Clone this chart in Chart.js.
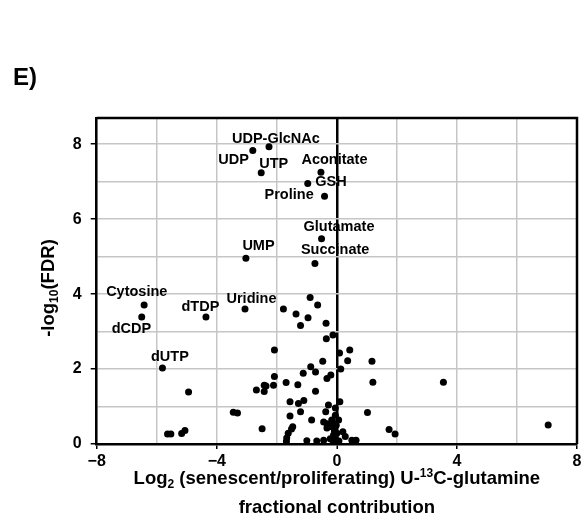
<!DOCTYPE html>
<html>
<head>
<meta charset="utf-8">
<title>Volcano plot E</title>
<script src="https://cdn.jsdelivr.net/npm/chart.js@4.4.1/dist/chart.umd.min.js"></script>
<style>
  html, body { margin: 0; padding: 0; background: #fff; }
  #chart { display: block; }
</style>
</head>
<body>
<canvas id="chart" width="581" height="520"></canvas>
<script>
// named metabolites
const labeledNames = ["UDP-GlcNAc", "UDP", "UTP", "Aconitate", "GSH", "Proline", "Glutamate",
  "Succinate", "UMP", "Cytosine", "dCDP", "dTDP", "Uridine", "dUTP"];
const labeledX = [-2.26, -2.8, -2.52, -0.53, -0.97, -0.41, -0.51, -0.73, -3.03, -6.42, -6.5, -4.36, -3.06, -5.81];
const labeledY = [7.93, 7.83, 7.24, 7.25, 6.95, 6.61, 5.48, 4.82, 4.96, 3.71, 3.39, 3.39, 3.6, 2.03];

// everything else
const otherX = [-4.94, -5.64, -5.53, -5.17, -5.06, -3.45, -3.31, -2.49, -2.68, -2.42, -2.36, -2.42,
  -2.08, -2.08, -2.11, -1.78, -1.69, -1.56, -1.56, -1.51, -1.47, -1.62, -1.67, -1.68,
  -1.36, -1.21, -0.96, -0.89, -0.64, -0.36, -0.35, -0.13, 0.09, 0.43, 0.36, 0.13,
  -0.47, -0.87, -0.71, -1.12, -1.3, -0.33, -0.2, -0.71, -1.1, -1.28, -1.21, -0.84,
  -0.28, 0.1, -0.05, -0.05, -0.37, -0.44, -0.33, -0.17, -0.11, -0.17, -0.33, 0.06,
  -0.02, -0.08, -0.11, 0.0, -0.05, -1.0, -0.67, -0.44, -0.22, -0.12, 0.02, 0.07,
  0.2, 0.28, 0.5, 0.64, 1.17, 1.2, 1.02, 1.74, 1.94, 3.55, 7.04];
const otherY = [1.39, 0.27, 0.27, 0.28, 0.36, 0.85, 0.83, 0.41, 1.44, 1.57, 1.55, 1.4,
  2.51, 1.8, 1.57, 3.6, 1.64, 1.13, 0.75, 0.4, 0.46, 0.29, 0.16, 0.07,
  3.47, 3.16, 3.37, 3.91, 3.71, 3.22, 2.81, 2.91, 2.43, 2.51, 2.22, 2.0,
  2.21, 2.06, 1.92, 1.89, 1.58, 1.75, 1.84, 1.41, 1.16, 1.08, 0.86, 0.64,
  1.04, 1.13, 0.96, 0.77, 0.86, 0.59, 0.54, 0.64, 0.55, 0.46, 0.43, 0.64,
  0.5, 0.35, 0.24, 0.29, 0.15, 0.09, 0.08, 0.1, 0.14, 0.06, 0.05, 0.08,
  0.33, 0.2, 0.1, 0.1, 2.21, 1.65, 0.84, 0.39, 0.27, 1.65, 0.51];

const xTickValues = [-8, -4, 0, 4, 8];
const yTickValues = [0, 2, 4, 6, 8];

// where each name sits next to its dot, px: [to text left edge, to baseline]
const labelOffsets = {
  "UDP-GlcNAc": [-37, -3.5], "UDP": [-34.5, 13], "UTP": [-2, -5], "Aconitate": [-19.5, -8.2],
  "GSH": [7.5, 2.2], "Proline": [-60, 2.3], "Glutamate": [-18, -8], "Succinate": [-14, -9.2],
  "UMP": [-3.5, -8], "Cytosine": [-38, -8.7], "dCDP": [-30, 15.7], "dTDP": [-24.5, -6.3],
  "Uridine": [-18.5, -5.7], "dUTP": [-11.5, -7],
};

const FONT = "'Liberation Sans', Arial, sans-serif";
const GRID = "#c6c6c6";

function points(xs, ys) {
  return xs.map((x, i) => ({ x, y: ys[i] }));
}

function minusLabel(v) {
  return v < 0 ? "\u2212" + Math.abs(v) : String(v);
}

// text with sub/superscript pieces, centred on x
function drawRich(ctx, parts, x, y, size) {
  const fontFor = (kind) => `bold ${kind ? size * 0.65 : size}px ${FONT}`;
  let total = 0;
  parts.forEach(([t, k]) => {
    ctx.font = fontFor(k);
    total += ctx.measureText(t).width;
  });
  let cx = x - total / 2;
  parts.forEach(([t, k]) => {
    ctx.font = fontFor(k);
    const dy = k === "sub" ? size * 0.22 : k === "sup" ? -size * 0.38 : 0;
    ctx.fillText(t, cx, y + dy);
    cx += ctx.measureText(t).width;
  });
}

const decor = {
  id: "decor",
  afterDatasetsDraw(chart) {
    const { ctx, chartArea: a, scales } = chart;
    ctx.save();
    // top and right edges of the box
    ctx.strokeStyle = "#000";
    ctx.lineWidth = 2.5;
    ctx.beginPath();
    ctx.moveTo(a.left, a.top);
    ctx.lineTo(a.right, a.top);
    ctx.lineTo(a.right, a.bottom);
    ctx.stroke();

    ctx.fillStyle = "#000";
    ctx.font = `bold 14.5px ${FONT}`;
    ctx.textAlign = "left";
    ctx.textBaseline = "alphabetic";
    labeledNames.forEach((name, i) => {
      const off = labelOffsets[name];
      const px = scales.x.getPixelForValue(labeledX[i]);
      const py = scales.y.getPixelForValue(labeledY[i]);
      ctx.fillText(name, px + off[0], py + off[1]);
    });
    ctx.restore();
  },
  afterDraw(chart) {
    const { ctx, chartArea: a } = chart;
    const midX = (a.left + a.right) / 2;
    ctx.save();
    ctx.fillStyle = "#000";
    ctx.textAlign = "left";
    ctx.textBaseline = "alphabetic";

    ctx.font = `bold 24px ${FONT}`;
    ctx.fillText("E)", 13, 85);

    drawRich(ctx, [["Log", ""], ["2", "sub"], [" (senescent/proliferating) U-", ""], ["13", "sup"], ["C-glutamine", ""]],
      midX, 484, 18.5);
    drawRich(ctx, [["fractional contribution", ""]], midX, 513, 18.5);

    ctx.translate(54, 288);
    ctx.rotate(-Math.PI / 2);
    drawRich(ctx, [["-log", ""], ["10", "sub"], ["(FDR)", ""]], 0, 0, 18.5);
    ctx.restore();
  },
};

new Chart(document.getElementById("chart"), {
  type: "scatter",
  data: {
    datasets: [
      {
        data: points(otherX, otherY).concat(points(labeledX, labeledY)),
        backgroundColor: "#000",
        borderWidth: 0,
        pointRadius: 3.5,
        pointHoverRadius: 3.5,
      },
    ],
  },
  options: {
    responsive: false,
    animation: false,
    events: [],
    layout: { padding: { top: 118, right: 4, bottom: 0, left: 0 } },
    plugins: {
      legend: { display: false },
      tooltip: { enabled: false },
    },
    scales: {
      x: {
        type: "linear",
        min: -8,
        max: 8,
        afterFit: (s) => {
          s.height = 76;
          s.paddingLeft = 0;
          s.paddingRight = 0;
        },
        border: { color: "#000", width: 2.5 },
        grid: {
          color: (c) => (c.tick && c.tick.value === 0 ? "#000" : GRID),
          lineWidth: (c) => (c.tick && c.tick.value === 0 ? 2.5 : 1.5),
          tickLength: 5,
          tickWidth: 1.5,
          tickColor: (c) => (c.tick && xTickValues.includes(c.tick.value) ? "#000" : "rgba(0,0,0,0)"),
        },
        ticks: {
          stepSize: 2,
          padding: 3,
          color: "#000",
          font: { family: FONT, size: 16, weight: "bold" },
          maxRotation: 0,
          autoSkip: false,
          callback: (v) => (xTickValues.includes(v) ? minusLabel(v) : ""),
        },
      },
      y: {
        type: "linear",
        min: 0,
        max: 8.7,
        afterFit: (s) => { s.width = 96.7; },
        border: { color: "#000", width: 2.5 },
        grid: {
          color: GRID,
          lineWidth: 1.5,
          tickLength: 6,
          tickWidth: 1.5,
          tickColor: (c) => (c.tick && yTickValues.includes(c.tick.value) ? "#000" : "rgba(0,0,0,0)"),
        },
        ticks: {
          stepSize: 1,
          padding: 9,
          color: "#000",
          font: { family: FONT, size: 16, weight: "bold" },
          autoSkip: false,
          callback: (v) => (yTickValues.includes(v) ? String(v) : ""),
        },
      },
    },
  },
  plugins: [decor],
});
</script>
</body>
</html>
